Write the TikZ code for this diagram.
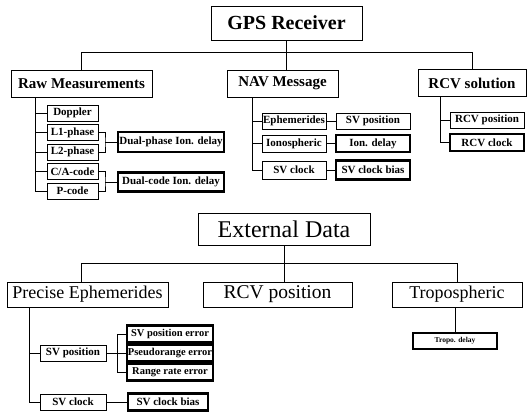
\documentclass[tikz,border=0pt]{standalone}
\usepackage{fontspec}
\setmainfont{Liberation Serif}

\begin{document}
\begin{tikzpicture}[x=1pt,y=-1pt,
  box/.style={draw,line width=0.7pt,inner sep=0pt,minimum height=16pt,font=\fontsize{11}{13}\selectfont\bfseries},
  res/.style={box,line width=2.2pt},
  head/.style={draw,line width=0.8pt,inner sep=0pt,minimum height=27pt,font=\fontsize{15}{18}\selectfont\bfseries},
  big/.style={draw,line width=0.8pt,inner sep=0pt,minimum height=25pt,font=\fontsize{18}{22}\selectfont},
  wire/.style={line width=0.6pt}]
\useasboundingbox (0,0) rectangle (530,415);

% receiver part
\node[head,font=\fontsize{20}{24}\selectfont\bfseries,minimum width=151pt,minimum height=34pt] (gps) at (286.5,23) {GPS Receiver};
\node[head,minimum width=141pt] (raw) at (81.5,83.5) {Raw Measurements};
\node[head,minimum width=111pt] (nav) at (282.5,83.5) {NAV Message};
\node[head,minimum width=108pt] (rcv) at (472,83) {RCV solution};

\coordinate (bus) at (0,52);
\draw[wire] (gps.south) -- (gps.south |- nav.north);
\draw[wire] (raw.north) -- (raw.north |- bus) -- (rcv.north |- bus) -- (rcv.north);

% raw measurements
\node[box,minimum width=51pt] (dop) at (72.5,113) {Doppler};
\node[box,minimum width=51pt] (lone) at (72.5,132.5) {L1-phase};
\node[box,minimum width=51pt] (ltwo) at (72.5,152) {L2-phase};
\node[box,minimum width=51pt] (ca) at (72.5,171.5) {C/A-code};
\node[box,minimum width=51pt] (pc) at (72.5,191) {P-code};
\node[res,minimum width=106pt,minimum height=20pt] (dph) at (171,142) {Dual-phase Ion. delay};
\node[res,minimum width=106pt,minimum height=19pt] (dco) at (171,182) {Dual-code Ion. delay};

\coordinate (rawt) at (35,0);
\draw[wire] (rawt |- raw.south) |- (pc.west);
\draw[wire] (rawt |- dop) -- (dop.west) (rawt |- lone) -- (lone.west) (rawt |- ltwo) -- (ltwo.west) (rawt |- ca) -- (ca.west);
\coordinate (phj) at (105,142);
\coordinate (coj) at (105,182);
\draw[wire] (lone.east) -| (phj) |- (ltwo.east) (phj) -- (dph.west);
\draw[wire] (ca.east) -| (coj) |- (pc.east) (coj) -- (dco.west);

% navigation message
\node[box,minimum width=64pt] (eph) at (294,121) {Ephemerides};
\node[box,minimum width=64pt,minimum height=17pt] (ion) at (294,143.5) {Ionospheric};
\node[box,minimum width=64pt,minimum height=18pt] (svc) at (294,170) {SV clock};
\node[box,minimum width=74pt] (svp) at (373,121) {SV position};
\node[res,minimum width=74pt,minimum height=17pt] (iond) at (373,143.5) {Ion. delay};
\node[res,minimum width=74pt,minimum height=19pt] (svb) at (373,170) {SV clock bias};

\coordinate (navt) at (252,0);
\draw[wire] (navt |- nav.south) |- (svc.west);
\draw[wire] (navt |- eph) -- (eph.west) (navt |- ion) -- (ion.west);
\draw[wire] (eph) -- (svp) (ion) -- (iond) (svc) -- (svb);

% receiver solution
\node[box,minimum width=74pt] (rpos) at (487,120) {RCV position};
\node[res,minimum width=74pt,minimum height=17pt] (rclk) at (487,142.5) {RCV clock};
\coordinate (rcvt) at (440,0);
\draw[wire] (rcvt |- rcv.south) |- (rclk.west) (rcvt |- rpos) -- (rpos.west);

% external data
\node[big,font=\fontsize{24}{28}\selectfont,minimum width=172pt,minimum height=32pt] (ext) at (284,229) {External Data};
\node[big,minimum width=161pt] (pre) at (87.5,294.5) {Precise Ephemerides};
\node[big,font=\fontsize{19.5}{23}\selectfont,minimum width=149pt] (epos) at (277.5,294.5) {RCV position};
\node[big,minimum width=130pt] (tro) at (457,294.5) {Tropospheric};

\coordinate (bus2) at (81,263);
\draw[wire] (ext.south) -- (ext.south |- epos.north);
\draw[wire] (bus2 |- pre.north) -- (bus2) -- (tro.north |- bus2) -- (tro.north);

\node[res,font=\fontsize{7.5}{9}\selectfont\bfseries,minimum width=84pt] (trd) at (455,341) {Tropo. delay};
\draw[wire] (tro.south -| trd) -- (trd.north);

% precise ephemerides
\node[box,minimum width=66pt] (pp) at (73,353) {SV position};
\node[box,minimum width=66pt] (pc2) at (73,402) {SV clock};
\node[res,font=\fontsize{10.5}{12}\selectfont\bfseries,minimum width=86pt,minimum height=17pt] (pe1) at (170,334) {SV position error};
\node[res,font=\fontsize{10.5}{12}\selectfont\bfseries,minimum width=86pt,minimum height=17pt] (pe2) at (170,353) {Pseudorange error};
\node[res,font=\fontsize{10.5}{12}\selectfont\bfseries,minimum width=86pt,minimum height=17pt] (pe3) at (170,372) {Range rate error};
\node[res,minimum width=80pt,minimum height=17pt] (pcb) at (168,402) {SV clock bias};

\coordinate (pret) at (29,0);
\coordinate (errj) at (117,0);
\draw[wire] (pret |- pre.south) |- (pc2.west) (pret |- pp) -- (pp.west);
\draw[wire] (pp.east) -- (pe2.west) (pe1.west) -| (errj |- pe1) |- (pe3.west);
\draw[wire] (pc2) -- (pcb);
\end{tikzpicture}
\end{document}
